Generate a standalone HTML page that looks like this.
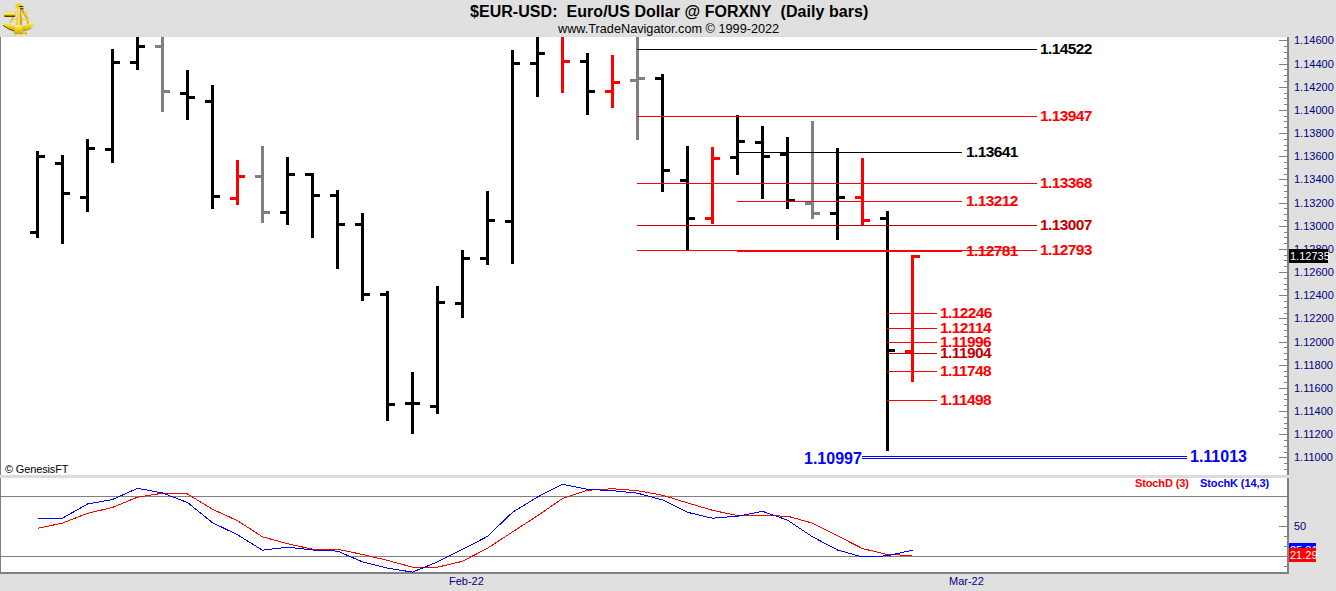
<!DOCTYPE html><html><head><meta charset="utf-8"><style>
html,body{margin:0;padding:0;width:1336px;height:591px;overflow:hidden;background:#e0e0e0;}
body{position:relative;font-family:"Liberation Sans",sans-serif;}
.t{position:absolute;white-space:pre;line-height:1;}
</style></head><body>
<svg width="1336" height="591" viewBox="0 0 1336 591" style="position:absolute;left:0;top:0">
<g shape-rendering="crispEdges">
<rect x="1" y="37" width="1286" height="438" fill="#ffffff"/>
<rect x="0" y="36" width="1287" height="1" fill="#dcdcdc"/>
<rect x="0" y="37" width="1" height="438" fill="#808080"/>
<rect x="1287" y="37" width="2" height="438" fill="#808080"/>
<rect x="0" y="475" width="1289" height="3" fill="#dcdcdc"/>
<rect x="1" y="478" width="1286" height="94" fill="#ffffff"/>
<rect x="0" y="478" width="1" height="96" fill="#808080"/>
<rect x="1287" y="478" width="2" height="96" fill="#808080"/>
<rect x="0" y="572" width="1289" height="2" fill="#808080"/>
<rect x="1279" y="40" width="8" height="1" fill="#808080"/>
<rect x="1284" y="46" width="3" height="1" fill="#808080"/>
<rect x="1284" y="52" width="3" height="1" fill="#808080"/>
<rect x="1284" y="58" width="3" height="1" fill="#808080"/>
<rect x="1279" y="64" width="8" height="1" fill="#808080"/>
<rect x="1284" y="69" width="3" height="1" fill="#808080"/>
<rect x="1284" y="75" width="3" height="1" fill="#808080"/>
<rect x="1284" y="81" width="3" height="1" fill="#808080"/>
<rect x="1279" y="87" width="8" height="1" fill="#808080"/>
<rect x="1284" y="93" width="3" height="1" fill="#808080"/>
<rect x="1284" y="98" width="3" height="1" fill="#808080"/>
<rect x="1284" y="104" width="3" height="1" fill="#808080"/>
<rect x="1279" y="110" width="8" height="1" fill="#808080"/>
<rect x="1284" y="116" width="3" height="1" fill="#808080"/>
<rect x="1284" y="121" width="3" height="1" fill="#808080"/>
<rect x="1284" y="127" width="3" height="1" fill="#808080"/>
<rect x="1279" y="133" width="8" height="1" fill="#808080"/>
<rect x="1284" y="139" width="3" height="1" fill="#808080"/>
<rect x="1284" y="145" width="3" height="1" fill="#808080"/>
<rect x="1284" y="150" width="3" height="1" fill="#808080"/>
<rect x="1279" y="156" width="8" height="1" fill="#808080"/>
<rect x="1284" y="162" width="3" height="1" fill="#808080"/>
<rect x="1284" y="168" width="3" height="1" fill="#808080"/>
<rect x="1284" y="174" width="3" height="1" fill="#808080"/>
<rect x="1279" y="179" width="8" height="1" fill="#808080"/>
<rect x="1284" y="185" width="3" height="1" fill="#808080"/>
<rect x="1284" y="191" width="3" height="1" fill="#808080"/>
<rect x="1284" y="197" width="3" height="1" fill="#808080"/>
<rect x="1279" y="203" width="8" height="1" fill="#808080"/>
<rect x="1284" y="208" width="3" height="1" fill="#808080"/>
<rect x="1284" y="214" width="3" height="1" fill="#808080"/>
<rect x="1284" y="220" width="3" height="1" fill="#808080"/>
<rect x="1279" y="226" width="8" height="1" fill="#808080"/>
<rect x="1284" y="232" width="3" height="1" fill="#808080"/>
<rect x="1284" y="237" width="3" height="1" fill="#808080"/>
<rect x="1284" y="243" width="3" height="1" fill="#808080"/>
<rect x="1279" y="249" width="8" height="1" fill="#808080"/>
<rect x="1284" y="255" width="3" height="1" fill="#808080"/>
<rect x="1284" y="260" width="3" height="1" fill="#808080"/>
<rect x="1284" y="266" width="3" height="1" fill="#808080"/>
<rect x="1279" y="272" width="8" height="1" fill="#808080"/>
<rect x="1284" y="278" width="3" height="1" fill="#808080"/>
<rect x="1284" y="284" width="3" height="1" fill="#808080"/>
<rect x="1284" y="289" width="3" height="1" fill="#808080"/>
<rect x="1279" y="295" width="8" height="1" fill="#808080"/>
<rect x="1284" y="301" width="3" height="1" fill="#808080"/>
<rect x="1284" y="307" width="3" height="1" fill="#808080"/>
<rect x="1284" y="313" width="3" height="1" fill="#808080"/>
<rect x="1279" y="318" width="8" height="1" fill="#808080"/>
<rect x="1284" y="324" width="3" height="1" fill="#808080"/>
<rect x="1284" y="330" width="3" height="1" fill="#808080"/>
<rect x="1284" y="336" width="3" height="1" fill="#808080"/>
<rect x="1279" y="342" width="8" height="1" fill="#808080"/>
<rect x="1284" y="347" width="3" height="1" fill="#808080"/>
<rect x="1284" y="353" width="3" height="1" fill="#808080"/>
<rect x="1284" y="359" width="3" height="1" fill="#808080"/>
<rect x="1279" y="365" width="8" height="1" fill="#808080"/>
<rect x="1284" y="371" width="3" height="1" fill="#808080"/>
<rect x="1284" y="376" width="3" height="1" fill="#808080"/>
<rect x="1284" y="382" width="3" height="1" fill="#808080"/>
<rect x="1279" y="388" width="8" height="1" fill="#808080"/>
<rect x="1284" y="394" width="3" height="1" fill="#808080"/>
<rect x="1284" y="399" width="3" height="1" fill="#808080"/>
<rect x="1284" y="405" width="3" height="1" fill="#808080"/>
<rect x="1279" y="411" width="8" height="1" fill="#808080"/>
<rect x="1284" y="417" width="3" height="1" fill="#808080"/>
<rect x="1284" y="423" width="3" height="1" fill="#808080"/>
<rect x="1284" y="428" width="3" height="1" fill="#808080"/>
<rect x="1279" y="434" width="8" height="1" fill="#808080"/>
<rect x="1284" y="440" width="3" height="1" fill="#808080"/>
<rect x="1284" y="446" width="3" height="1" fill="#808080"/>
<rect x="1284" y="452" width="3" height="1" fill="#808080"/>
<rect x="1279" y="457" width="8" height="1" fill="#808080"/>
<rect x="1284" y="463" width="3" height="1" fill="#808080"/>
<rect x="1284" y="469" width="3" height="1" fill="#808080"/>
<rect x="1284" y="506" width="3" height="1" fill="#808080"/>
<rect x="1284" y="516" width="3" height="1" fill="#808080"/>
<rect x="1279" y="526" width="8" height="1" fill="#808080"/>
<rect x="1284" y="536" width="3" height="1" fill="#808080"/>
<rect x="1284" y="546" width="3" height="1" fill="#808080"/>
<rect x="1284" y="566" width="3" height="1" fill="#808080"/>
<rect x="1" y="496" width="1286" height="1" fill="#808080"/>
<rect x="1" y="556" width="1286" height="1" fill="#808080"/>
<rect x="36" y="151" width="3" height="87" fill="#000000"/>
<rect x="30" y="231" width="6" height="3" fill="#000000"/>
<rect x="39" y="155" width="6" height="3" fill="#000000"/>
<rect x="61" y="155" width="3" height="89" fill="#000000"/>
<rect x="55" y="162" width="6" height="3" fill="#000000"/>
<rect x="64" y="192" width="6" height="3" fill="#000000"/>
<rect x="86" y="139" width="3" height="73" fill="#000000"/>
<rect x="80" y="196" width="6" height="3" fill="#000000"/>
<rect x="89" y="147" width="6" height="3" fill="#000000"/>
<rect x="111" y="49" width="3" height="114" fill="#000000"/>
<rect x="105" y="148" width="6" height="3" fill="#000000"/>
<rect x="114" y="61" width="6" height="3" fill="#000000"/>
<rect x="136" y="37" width="3" height="33" fill="#000000"/>
<rect x="130" y="61" width="6" height="3" fill="#000000"/>
<rect x="139" y="45" width="6" height="3" fill="#000000"/>
<rect x="161" y="37" width="3" height="75" fill="#808080"/>
<rect x="155" y="45" width="6" height="3" fill="#808080"/>
<rect x="164" y="90" width="6" height="3" fill="#808080"/>
<rect x="186" y="70" width="3" height="50" fill="#000000"/>
<rect x="180" y="92" width="6" height="3" fill="#000000"/>
<rect x="189" y="96" width="6" height="3" fill="#000000"/>
<rect x="211" y="85" width="3" height="124" fill="#000000"/>
<rect x="205" y="100" width="6" height="3" fill="#000000"/>
<rect x="214" y="195" width="6" height="3" fill="#000000"/>
<rect x="236" y="160" width="3" height="45" fill="#ff0000"/>
<rect x="230" y="197" width="6" height="3" fill="#ff0000"/>
<rect x="239" y="175" width="6" height="3" fill="#ff0000"/>
<rect x="261" y="146" width="3" height="77" fill="#808080"/>
<rect x="255" y="175" width="6" height="3" fill="#808080"/>
<rect x="264" y="211" width="6" height="3" fill="#808080"/>
<rect x="286" y="157" width="3" height="68" fill="#000000"/>
<rect x="280" y="211" width="6" height="3" fill="#000000"/>
<rect x="289" y="173" width="6" height="3" fill="#000000"/>
<rect x="311" y="173" width="3" height="65" fill="#000000"/>
<rect x="305" y="173" width="6" height="3" fill="#000000"/>
<rect x="314" y="194" width="6" height="3" fill="#000000"/>
<rect x="336" y="190" width="3" height="79" fill="#000000"/>
<rect x="330" y="194" width="6" height="3" fill="#000000"/>
<rect x="339" y="223" width="6" height="3" fill="#000000"/>
<rect x="361" y="213" width="3" height="88" fill="#000000"/>
<rect x="355" y="223" width="6" height="3" fill="#000000"/>
<rect x="364" y="293" width="6" height="3" fill="#000000"/>
<rect x="386" y="291" width="3" height="130" fill="#000000"/>
<rect x="380" y="293" width="6" height="3" fill="#000000"/>
<rect x="389" y="403" width="6" height="3" fill="#000000"/>
<rect x="411" y="372" width="3" height="62" fill="#000000"/>
<rect x="405" y="402" width="6" height="3" fill="#000000"/>
<rect x="414" y="402" width="6" height="3" fill="#000000"/>
<rect x="436" y="286" width="3" height="128" fill="#000000"/>
<rect x="430" y="405" width="6" height="3" fill="#000000"/>
<rect x="439" y="301" width="6" height="3" fill="#000000"/>
<rect x="461" y="250" width="3" height="68" fill="#000000"/>
<rect x="455" y="302" width="6" height="3" fill="#000000"/>
<rect x="464" y="257" width="6" height="3" fill="#000000"/>
<rect x="486" y="191" width="3" height="74" fill="#000000"/>
<rect x="480" y="257" width="6" height="3" fill="#000000"/>
<rect x="489" y="219" width="6" height="3" fill="#000000"/>
<rect x="511" y="50" width="3" height="214" fill="#000000"/>
<rect x="505" y="220" width="6" height="3" fill="#000000"/>
<rect x="514" y="62" width="6" height="3" fill="#000000"/>
<rect x="536" y="37" width="3" height="60" fill="#000000"/>
<rect x="530" y="62" width="6" height="3" fill="#000000"/>
<rect x="539" y="52" width="6" height="3" fill="#000000"/>
<rect x="561" y="37" width="3" height="56" fill="#ff0000"/>
<rect x="564" y="60" width="6" height="3" fill="#ff0000"/>
<rect x="586" y="53" width="3" height="62" fill="#000000"/>
<rect x="580" y="60" width="6" height="3" fill="#000000"/>
<rect x="589" y="90" width="6" height="3" fill="#000000"/>
<rect x="611" y="55" width="3" height="53" fill="#ff0000"/>
<rect x="605" y="90" width="6" height="3" fill="#ff0000"/>
<rect x="614" y="81" width="6" height="3" fill="#ff0000"/>
<rect x="636" y="37" width="3" height="103" fill="#808080"/>
<rect x="630" y="79" width="6" height="3" fill="#808080"/>
<rect x="639" y="77" width="6" height="3" fill="#808080"/>
<rect x="661" y="74" width="3" height="118" fill="#000000"/>
<rect x="655" y="77" width="6" height="3" fill="#000000"/>
<rect x="664" y="169" width="6" height="3" fill="#000000"/>
<rect x="686" y="146" width="3" height="104" fill="#000000"/>
<rect x="680" y="179" width="6" height="3" fill="#000000"/>
<rect x="689" y="217" width="6" height="3" fill="#000000"/>
<rect x="711" y="147" width="3" height="77" fill="#ff0000"/>
<rect x="705" y="217" width="6" height="3" fill="#ff0000"/>
<rect x="714" y="157" width="6" height="3" fill="#ff0000"/>
<rect x="736" y="115" width="3" height="60" fill="#000000"/>
<rect x="730" y="156" width="6" height="3" fill="#000000"/>
<rect x="739" y="140" width="6" height="3" fill="#000000"/>
<rect x="761" y="126" width="3" height="73" fill="#000000"/>
<rect x="755" y="141" width="6" height="3" fill="#000000"/>
<rect x="764" y="155" width="6" height="3" fill="#000000"/>
<rect x="786" y="137" width="3" height="72" fill="#000000"/>
<rect x="780" y="153" width="6" height="3" fill="#000000"/>
<rect x="789" y="199" width="6" height="3" fill="#000000"/>
<rect x="811" y="121" width="3" height="98" fill="#808080"/>
<rect x="805" y="202" width="6" height="3" fill="#808080"/>
<rect x="814" y="212" width="6" height="3" fill="#808080"/>
<rect x="836" y="148" width="3" height="92" fill="#000000"/>
<rect x="830" y="212" width="6" height="3" fill="#000000"/>
<rect x="839" y="196" width="6" height="3" fill="#000000"/>
<rect x="861" y="158" width="3" height="67" fill="#ff0000"/>
<rect x="855" y="196" width="6" height="3" fill="#ff0000"/>
<rect x="864" y="219" width="6" height="3" fill="#ff0000"/>
<rect x="886" y="211" width="3" height="240" fill="#000000"/>
<rect x="880" y="217" width="6" height="3" fill="#000000"/>
<rect x="889" y="349" width="6" height="3" fill="#000000"/>
<rect x="911" y="255" width="3" height="127" fill="#ff0000"/>
<rect x="905" y="350" width="6" height="3" fill="#ff0000"/>
<rect x="914" y="255" width="6" height="3" fill="#ff0000"/>
<rect x="637" y="49" width="400" height="1" fill="#000000"/>
<rect x="637" y="116" width="400" height="1" fill="#ff0000"/>
<rect x="737" y="152" width="225" height="1" fill="#000000"/>
<rect x="637" y="183" width="400" height="1" fill="#ff0000"/>
<rect x="737" y="201" width="225" height="1" fill="#ff0000"/>
<rect x="637" y="225" width="400" height="1" fill="#c00000"/>
<rect x="637" y="250" width="400" height="1" fill="#ff0000"/>
<rect x="737" y="251" width="225" height="1" fill="#ff0000"/>
<rect x="887" y="313" width="50" height="1" fill="#ff0000"/>
<rect x="887" y="328" width="50" height="1" fill="#ff0000"/>
<rect x="887" y="342" width="50" height="1" fill="#ff0000"/>
<rect x="887" y="353" width="50" height="1" fill="#c00000"/>
<rect x="887" y="371" width="50" height="1" fill="#ff0000"/>
<rect x="887" y="400" width="50" height="1" fill="#ff0000"/>
<rect x="862" y="456" width="325" height="1" fill="#0000ff"/>
<rect x="862" y="458" width="325" height="1" fill="#0000ff"/>
</g>
<g fill="none" stroke-width="1" shape-rendering="crispEdges">
<polyline points="37.5,528.4 62.5,523.1 87.5,513.3 112.5,507.4 137.5,497.2 162.5,493.2 187.5,494.0 212.5,509.3 237.5,520.7 262.5,536.8 287.5,543.7 312.5,549.2 337.5,549.2 362.5,554.5 387.5,560.4 412.5,567.2 437.5,567.2 462.5,561.3 487.5,548.2 512.5,531.9 537.5,515.8 562.5,498.5 587.5,490.3 612.5,488.7 637.5,490.7 662.5,495.2 687.5,502.9 712.5,510.3 737.5,515.6 762.5,515.6 787.5,516.2 812.5,523.1 837.5,535.8 862.5,548.6 887.5,554.5 912.5,555.5" stroke="#ff0000"/>
<polyline points="37.5,518.2 62.5,518.2 87.5,504.0 112.5,499.5 137.5,488.3 162.5,493.0 187.5,502.5 212.5,522.7 237.5,534.8 262.5,550.2 287.5,547.2 312.5,550.0 337.5,551.1 362.5,561.9 387.5,568.2 412.5,572.1 437.5,561.9 462.5,549.4 487.5,536.4 512.5,512.3 537.5,497.0 562.5,484.2 587.5,489.3 612.5,490.7 637.5,493.2 662.5,499.9 687.5,512.3 712.5,518.2 737.5,516.2 762.5,511.3 787.5,520.1 812.5,536.8 837.5,550.0 862.5,557.0 887.5,555.8 912.5,550.2" stroke="#0000ff"/>
</g>
<g shape-rendering="crispEdges">
</g>
<g id="logo" stroke-linecap="round">
<defs><linearGradient id="gold" x1="0" y1="0" x2="0" y2="1"><stop offset="0" stop-color="#fff27a"/><stop offset="0.4" stop-color="#f6d81e"/><stop offset="1" stop-color="#c8a200"/></linearGradient>
<linearGradient id="goldh" x1="0" y1="0" x2="1" y2="0"><stop offset="0" stop-color="#d8b400"/><stop offset="0.45" stop-color="#fff07a"/><stop offset="0.7" stop-color="#f0cc10"/><stop offset="1" stop-color="#6a5200"/></linearGradient>
<linearGradient id="tele" x1="0" y1="0" x2="0" y2="1"><stop offset="0" stop-color="#f0d020"/><stop offset="0.35" stop-color="#fff6a0"/><stop offset="0.6" stop-color="#e0bc00"/><stop offset="1" stop-color="#2a2000"/></linearGradient></defs>
<path d="M3.2,25 Q18.6,37 34.9,25.3 L30.9,22.3 Q18.6,31 5.7,22.6 Z" fill="url(#gold)"/>
<path d="M3.4,25.6 Q8.5,29.6 14,31" stroke="#3a2e00" stroke-width="0.9" fill="none"/>
<path d="M23.5,31 Q28,30 31,28.6" stroke="#806400" stroke-width="0.7" fill="none"/>
<path d="M15.4,12.5 L10.2,22.4" stroke="#e8c400" stroke-width="1.5" fill="none"/>
<path d="M21.8,8.6 L27.4,18.4 L27.9,23.6" stroke="#e0bc00" stroke-width="1.8" fill="none"/>
<path d="M21.4,9.6 L25.8,17.4" stroke="#806400" stroke-width="0.5" fill="none"/>
<path d="M10.8,20.6 Q19,16.8 27.6,20.4" stroke="#f0d020" stroke-width="1.3" fill="none"/>
<ellipse cx="25.6" cy="13.2" rx="1.6" ry="2.5" fill="#f6d828" transform="rotate(-30 25.6 13.2)"/>
<rect x="4.1" y="11.8" width="11.3" height="5.1" rx="1" fill="url(#tele)"/>
<path d="M17.3,8 L21,8 L21.6,26 L16.6,26 Z" fill="url(#goldh)"/>
<path d="M15,6.4 Q16.2,3 19,2.9 Q22,3 22.6,5.6 L21.5,8.2 L17,8.2 Z" fill="#f2d21a"/>
<path d="M19.5,6.5 L23,6.6" stroke="#1e1e1e" stroke-width="1" fill="none"/>
<path d="M20.5,8.6 L23.2,8.8" stroke="#1e1e1e" stroke-width="0.9" fill="none"/>
<path d="M15.2,25 L21.6,25 L23.3,34.2 L13.9,34.2 Z" fill="url(#gold)"/>
<rect x="23" y="32.6" width="3.2" height="1.3" fill="#d8b400"/><rect x="25.8" y="31.8" width="1.3" height="3" fill="#e8c800"/>
</g>
</svg>
<div class="t" style="left:470px;top:4px;font-size:16px;font-weight:bold;color:#000;z-index:1;letter-spacing:0.045px">$EUR-USD:&nbsp; Euro/US Dollar @ FORXNY&nbsp; (Daily bars)</div>
<div class="t" style="left:558px;top:23px;font-size:12.7px;font-weight:normal;color:#000;z-index:1;letter-spacing:0px">www.TradeNavigator.com © 1999-2022</div>
<div class="t" style="left:1294px;top:35px;font-size:11px;font-weight:normal;color:#000080;z-index:1;letter-spacing:0px">1.14600</div>
<div class="t" style="left:1294px;top:59px;font-size:11px;font-weight:normal;color:#000080;z-index:1;letter-spacing:0px">1.14400</div>
<div class="t" style="left:1294px;top:82px;font-size:11px;font-weight:normal;color:#000080;z-index:1;letter-spacing:0px">1.14200</div>
<div class="t" style="left:1294px;top:105px;font-size:11px;font-weight:normal;color:#000080;z-index:1;letter-spacing:0px">1.14000</div>
<div class="t" style="left:1294px;top:128px;font-size:11px;font-weight:normal;color:#000080;z-index:1;letter-spacing:0px">1.13800</div>
<div class="t" style="left:1294px;top:151px;font-size:11px;font-weight:normal;color:#000080;z-index:1;letter-spacing:0px">1.13600</div>
<div class="t" style="left:1294px;top:174px;font-size:11px;font-weight:normal;color:#000080;z-index:1;letter-spacing:0px">1.13400</div>
<div class="t" style="left:1294px;top:198px;font-size:11px;font-weight:normal;color:#000080;z-index:1;letter-spacing:0px">1.13200</div>
<div class="t" style="left:1294px;top:221px;font-size:11px;font-weight:normal;color:#000080;z-index:1;letter-spacing:0px">1.13000</div>
<div class="t" style="left:1294px;top:244px;font-size:11px;font-weight:normal;color:#000080;z-index:1;letter-spacing:0px">1.12800</div>
<div class="t" style="left:1294px;top:267px;font-size:11px;font-weight:normal;color:#000080;z-index:1;letter-spacing:0px">1.12600</div>
<div class="t" style="left:1294px;top:290px;font-size:11px;font-weight:normal;color:#000080;z-index:1;letter-spacing:0px">1.12400</div>
<div class="t" style="left:1294px;top:313px;font-size:11px;font-weight:normal;color:#000080;z-index:1;letter-spacing:0px">1.12200</div>
<div class="t" style="left:1294px;top:337px;font-size:11px;font-weight:normal;color:#000080;z-index:1;letter-spacing:0px">1.12000</div>
<div class="t" style="left:1294px;top:360px;font-size:11px;font-weight:normal;color:#000080;z-index:1;letter-spacing:0px">1.11800</div>
<div class="t" style="left:1294px;top:383px;font-size:11px;font-weight:normal;color:#000080;z-index:1;letter-spacing:0px">1.11600</div>
<div class="t" style="left:1294px;top:406px;font-size:11px;font-weight:normal;color:#000080;z-index:1;letter-spacing:0px">1.11400</div>
<div class="t" style="left:1294px;top:429px;font-size:11px;font-weight:normal;color:#000080;z-index:1;letter-spacing:0px">1.11200</div>
<div class="t" style="left:1294px;top:452px;font-size:11px;font-weight:normal;color:#000080;z-index:1;letter-spacing:0px">1.11000</div>
<div class="t" style="left:1290px;top:251px;font-size:11px;font-weight:normal;color:#ffffff;z-index:5;letter-spacing:0px">1.12735</div>
<div class="t" style="left:1294px;top:521px;font-size:11px;font-weight:normal;color:#000080;z-index:1;letter-spacing:0px">50</div>
<div class="t" style="left:1290px;top:545px;font-size:11px;font-weight:normal;color:#ffffff;z-index:5;letter-spacing:0px">25.81</div>
<div class="t" style="left:1290px;top:550px;font-size:11px;font-weight:normal;color:#ffffff;z-index:7;letter-spacing:0px">21.29</div>
<div class="t" style="left:449px;top:576px;font-size:11px;font-weight:normal;color:#000080;z-index:1;letter-spacing:0px">Feb-22</div>
<div class="t" style="left:949px;top:576px;font-size:11px;font-weight:normal;color:#000080;z-index:1;letter-spacing:0px">Mar-22</div>
<div class="t" style="left:5px;top:464px;font-size:11px;font-weight:normal;color:#000;z-index:1;letter-spacing:-0.15px">© GenesisFT</div>
<div class="t" style="left:1135px;top:478px;font-size:11px;font-weight:bold;color:#ff0000;z-index:1;letter-spacing:-0.12px">StochD (3)</div>
<div class="t" style="left:1200px;top:478px;font-size:11px;font-weight:bold;color:#0000ff;z-index:1;letter-spacing:-0.1px">StochK (14,3)</div>
<div class="t" style="left:1040px;top:41px;font-size:15.5px;font-weight:bold;color:#000000;z-index:1;letter-spacing:-0.6px">1.14522</div>
<div class="t" style="left:1040px;top:108px;font-size:15.5px;font-weight:bold;color:#ff0000;z-index:1;letter-spacing:-0.6px">1.13947</div>
<div class="t" style="left:966px;top:144px;font-size:15.5px;font-weight:bold;color:#000000;z-index:1;letter-spacing:-0.6px">1.13641</div>
<div class="t" style="left:1040px;top:175px;font-size:15.5px;font-weight:bold;color:#ff0000;z-index:1;letter-spacing:-0.6px">1.13368</div>
<div class="t" style="left:966px;top:193px;font-size:15.5px;font-weight:bold;color:#ff0000;z-index:1;letter-spacing:-0.6px">1.13212</div>
<div class="t" style="left:1040px;top:217px;font-size:15.5px;font-weight:bold;color:#c00000;z-index:1;letter-spacing:-0.6px">1.13007</div>
<div class="t" style="left:1040px;top:242px;font-size:15.5px;font-weight:bold;color:#ff0000;z-index:1;letter-spacing:-0.6px">1.12793</div>
<div class="t" style="left:966px;top:243px;font-size:15.5px;font-weight:bold;color:#ff0000;z-index:1;letter-spacing:-0.6px">1.12781</div>
<div class="t" style="left:940px;top:305px;font-size:15.5px;font-weight:bold;color:#ff0000;z-index:1;letter-spacing:-0.6px">1.12246</div>
<div class="t" style="left:940px;top:320px;font-size:15.5px;font-weight:bold;color:#ff0000;z-index:1;letter-spacing:-0.6px">1.12114</div>
<div class="t" style="left:940px;top:334px;font-size:15.5px;font-weight:bold;color:#ff0000;z-index:1;letter-spacing:-0.6px">1.11996</div>
<div class="t" style="left:940px;top:345px;font-size:15.5px;font-weight:bold;color:#c00000;z-index:1;letter-spacing:-0.6px">1.11904</div>
<div class="t" style="left:940px;top:363px;font-size:15.5px;font-weight:bold;color:#ff0000;z-index:1;letter-spacing:-0.6px">1.11748</div>
<div class="t" style="left:940px;top:392px;font-size:15.5px;font-weight:bold;color:#ff0000;z-index:1;letter-spacing:-0.6px">1.11498</div>
<div class="t" style="left:1190px;top:449px;font-size:16px;font-weight:bold;color:#0000ff;z-index:1;letter-spacing:0px">1.11013</div>
<div class="t" style="left:804px;top:451px;font-size:16px;font-weight:bold;color:#0000ff;z-index:1;letter-spacing:0px">1.10997</div>
<div style="position:absolute;left:1289px;top:249px;width:39px;height:14px;background:#000;z-index:4"></div>
<div style="position:absolute;left:1289px;top:543px;width:27px;height:14px;background:#0000ff;z-index:4"></div>
<div style="position:absolute;left:1289px;top:548px;width:27px;height:14px;background:#ff0000;z-index:6"></div>
</body></html>
